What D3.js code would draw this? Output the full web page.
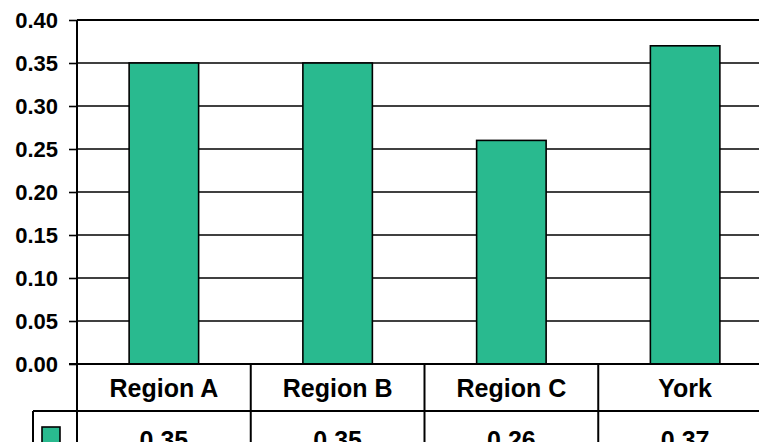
<!DOCTYPE html>
<html>
<head>
<meta charset="utf-8">
<script src="https://cdn.jsdelivr.net/npm/d3@7"></script>
<style>
  body{margin:0;background:#fff;}
  svg{display:block;}
  text{font-family:"Liberation Sans",Arial,sans-serif;font-weight:bold;fill:#000;}
</style>
</head>
<body>
<div class="canvas"></div>
<script>
// chart data
const categories=['Region A','Region B','Region C','York'];
const values=[0.35,0.35,0.26,0.37];
const yTicks=[0,0.05,0.10,0.15,0.20,0.25,0.30,0.35,0.40];

const dims={width:759,height:442};
const plot={left:77,top:20,bottom:364,right:772};
const rowH=47; // category row in the data table

const svg=d3.select('.canvas')
.append('svg')
.attr('width',dims.width)
.attr('height',dims.height);

const y=d3.scaleLinear()
.domain([0,0.4])
.range([plot.bottom,plot.top]);

const x=d3.scaleBand()
.domain(categories)
.range([plot.left,plot.right])
.paddingInner(0.6)
.paddingOuter(0.3);

// horizontal grid lines
svg.append('g')
.selectAll('line')
.data(yTicks.slice(1))
.enter().append('line')
.attr('x1',plot.left).attr('x2',dims.width)
.attr('y1',d=>y(d)).attr('y2',d=>y(d))
.attr('stroke','#000')
.attr('stroke-width',d=>d===0.4?2.2:1.6);

// y axis with labels
const yAxis=d3.axisLeft(y)
.tickValues(yTicks)
.tickFormat(d3.format('.2f'))
.tickSize(8)
.tickPadding(11);

const axisG=svg.append('g')
.attr('transform',`translate(${plot.left},0)`)
.call(yAxis);
axisG.select('.domain').remove();
axisG.selectAll('line').attr('stroke','#000').attr('stroke-width',1.6);
axisG.selectAll('text')
.attr('font-family','"Liberation Sans",Arial,sans-serif')
.attr('font-weight','bold')
.attr('font-size',22)
.attr('fill','#000');

// bars
svg.append('g')
.selectAll('rect')
.data(values)
.enter().append('rect')
.attr('x',(d,i)=>x(categories[i]))
.attr('y',d=>y(d))
.attr('width',x.bandwidth())
.attr('height',d=>y(0)-y(d))
.attr('fill','#29ba8f')
.attr('stroke','#000')
.attr('stroke-width',1.6);

// data table below the plot
const step=x.step();
const cellLeft=c=>x(c)-x.paddingOuter()*step;
const table=svg.append('g');

table.append('line')
.attr('x1',plot.left-8).attr('x2',dims.width)
.attr('y1',plot.bottom).attr('y2',plot.bottom)
.attr('stroke','#000').attr('stroke-width',2);

table.append('line')
.attr('x1',33).attr('x2',dims.width)
.attr('y1',plot.bottom+rowH).attr('y2',plot.bottom+rowH)
.attr('stroke','#000').attr('stroke-width',2);

// left axis line, runs down through the table
table.append('line')
.attr('x1',plot.left).attr('x2',plot.left)
.attr('y1',plot.top).attr('y2',dims.height)
.attr('stroke','#000').attr('stroke-width',2);

// legend cell border
table.append('line')
.attr('x1',33).attr('x2',33)
.attr('y1',plot.bottom+rowH).attr('y2',dims.height)
.attr('stroke','#000').attr('stroke-width',2);

table.selectAll('.divider')
.data(categories.slice(1))
.enter().append('line')
.attr('class','divider')
.attr('x1',d=>cellLeft(d)).attr('x2',d=>cellLeft(d))
.attr('y1',plot.bottom).attr('y2',dims.height)
.attr('stroke','#000').attr('stroke-width',2);

table.selectAll('.cat')
.data(categories)
.enter().append('text')
.attr('class','cat')
.attr('x',d=>x(d)+x.bandwidth()/2)
.attr('y',plot.bottom+33)
.attr('text-anchor','middle')
.attr('font-size',25)
.text(d=>d);

// value row, cut by the bottom edge as in the source
table.selectAll('.val')
.data(values)
.enter().append('text')
.attr('class','val')
.attr('x',(d,i)=>x(categories[i])+x.bandwidth()/2)
.attr('y',plot.bottom+rowH+38)
.attr('text-anchor','middle')
.attr('font-size',25)
.text(d=>d3.format('.2f')(d));

// legend swatch
table.append('rect')
.attr('x',42).attr('y',427)
.attr('width',18).attr('height',18)
.attr('fill','#29ba8f')
.attr('stroke','#000')
.attr('stroke-width',1.6);
</script>
</body>
</html>
